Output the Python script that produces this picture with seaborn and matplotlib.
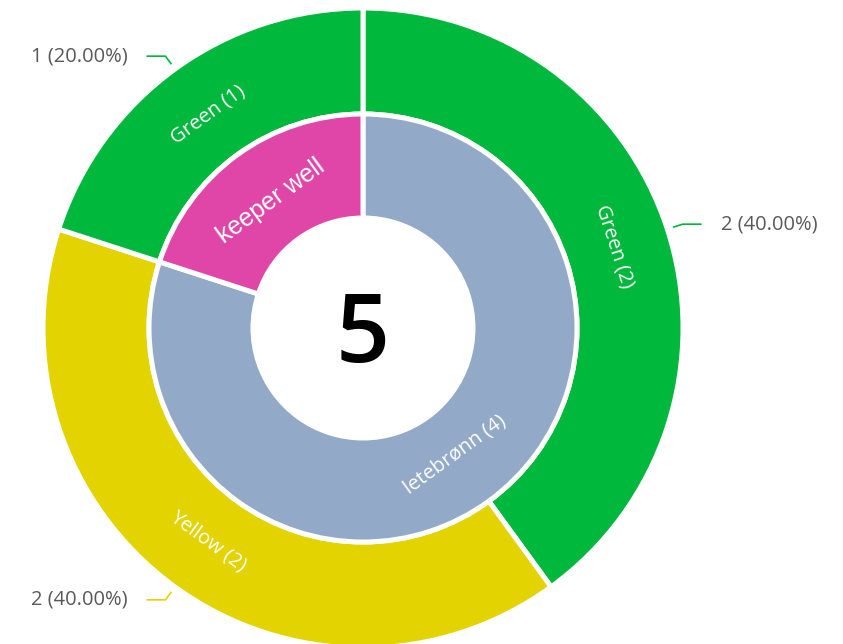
import numpy as np
import matplotlib.pyplot as plt
import seaborn as sns

# outer ring (status) and inner ring (well type)
outer_labels = ["Green", "Yellow", "Green"]
outer_counts = [2, 2, 1]
outer_colors = ["#00B83B", "#E3D300", "#00B83B"]
inner_labels = ["letebrønn", "keeper well"]
inner_counts = [4, 1]
inner_colors = ["#93A9C8", "#E046A7"]
total = sum(inner_counts)

sns.set_theme(style="white")
plt.rcParams["font.family"] = ["Open Sans", "DejaVu Sans"]

W, H = 843, 644
fig = plt.figure(figsize=(W / 100, H / 100), dpi=100)
ax = fig.add_axes([0, 0, 1, 1])

cx, cy = 363, H - 328
r_out, r_mid, r_in = 320, 214, 110
edge = dict(edgecolor="white", linewidth=3.6)

outer, _ = ax.pie(outer_counts, radius=r_out, center=(cx, cy), startangle=90,
                  counterclock=False, colors=outer_colors, frame=True,
                  wedgeprops=dict(width=r_out - r_mid, **edge))
inner, _ = ax.pie(inner_counts, radius=r_mid, center=(cx, cy), startangle=90,
                  counterclock=False, colors=inner_colors, frame=True,
                  wedgeprops=dict(width=r_mid - r_in, **edge))


def mid_angle(w):
    return np.deg2rad((w.theta1 + w.theta2) / 2)


def tangent_rot(t):
    rot = (np.rad2deg(t) - 90) % 360
    if 90 < rot < 270:
        rot -= 180
    return rot


# labels inside the rings
for w, lab, n in zip(outer, outer_labels, outer_counts):
    t = mid_angle(w)
    r = (r_out + r_mid) / 2 - 3
    ax.text(cx + r * np.cos(t), cy + r * np.sin(t), f"{lab} ({n})", color="white",
            fontsize=14.5, rotation=tangent_rot(t), ha="center", va="center",
            rotation_mode="anchor")

for w, lab, n in zip(inner, inner_labels, inner_counts):
    t = mid_angle(w)
    r = (r_mid + r_in) / 2 - 5
    if n == 1:
        txt, fs, fam = lab, 18, ["Liberation Sans", "DejaVu Sans"]
    else:
        txt, fs, fam = f"{lab} ({n})", 14.5, ["Open Sans", "DejaVu Sans"]
    ax.text(cx + r * np.cos(t), cy + r * np.sin(t), txt, color="white",
            fontsize=fs, family=fam, rotation=tangent_rot(t), ha="center",
            va="center", rotation_mode="anchor")

# outside value labels with leader lines
for w, n, col in zip(outer, outer_counts, outer_colors):
    t = mid_angle(w)
    x0, y0 = cx + 326 * np.cos(t), cy + 326 * np.sin(t)
    x1, y1 = cx + 336 * np.cos(t), cy + 336 * np.sin(t)
    side = 1 if np.cos(t) > 0 else -1
    x2 = x1 + side * 19
    ax.plot([x0, x1, x2], [y0, y1, y1], color=col, lw=1.2, solid_capstyle="butt")
    ax.text(x2 + side * 19, y1, f"{n} ({n / total * 100:.2f}%)", color="#595959",
            fontsize=14.5, ha="left" if side > 0 else "right", va="center")

ax.text(cx, cy - 9, str(total), fontsize=68, fontweight="semibold", color="black",
        ha="center", va="center")

ax.set_xlim(0, W)
ax.set_ylim(0, H)
ax.set_aspect("equal")
ax.axis("off")

fig.savefig("out.png", dpi=100)
